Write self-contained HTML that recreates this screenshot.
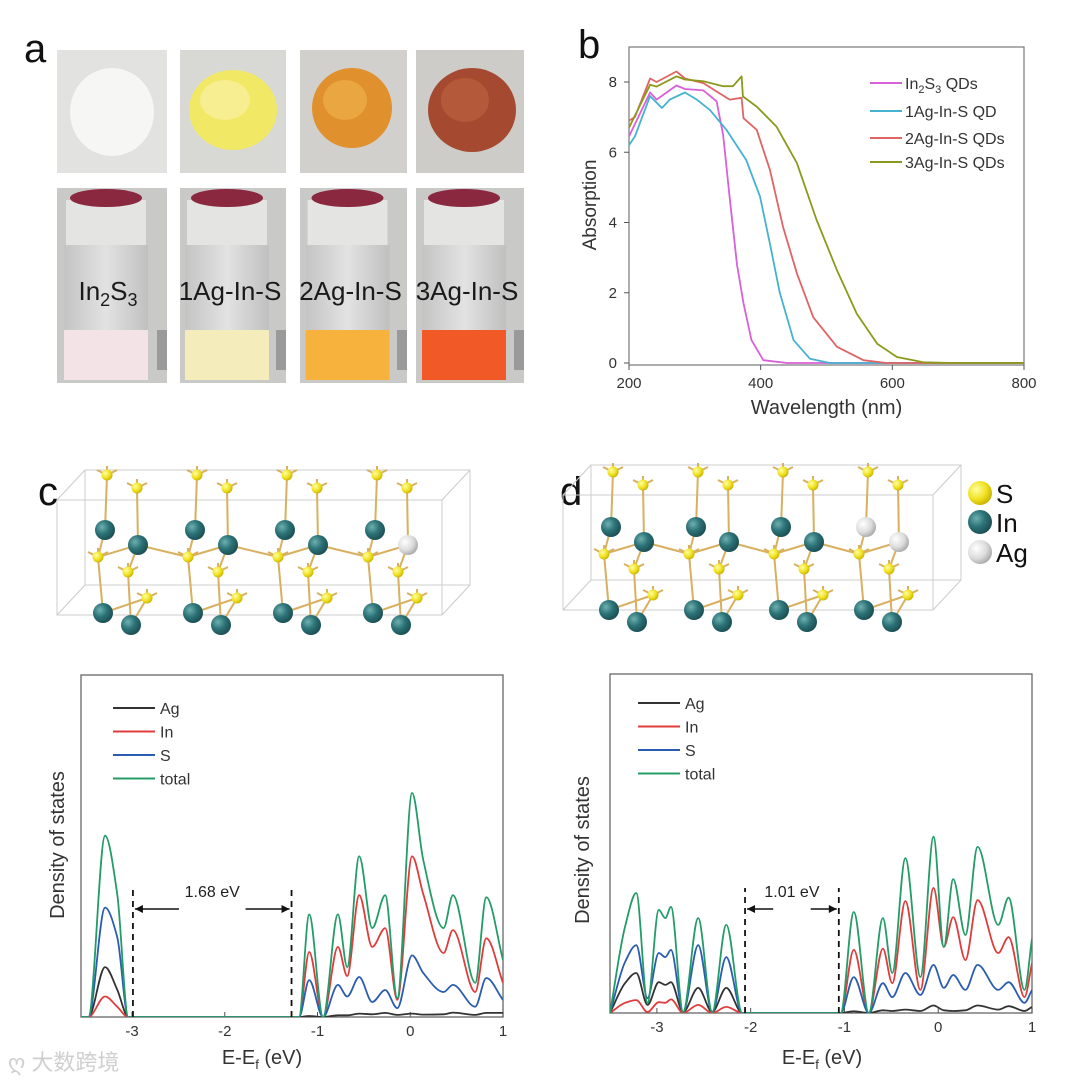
<!DOCTYPE html>
<html><head><meta charset="utf-8"><style>
html,body{margin:0;padding:0;background:#fff;}
svg{display:block;font-family:"Liberation Sans","Noto Sans CJK SC",sans-serif;}
</style></head><body>
<svg id="fig" width="1080" height="1082" viewBox="0 0 1080 1082" xmlns="http://www.w3.org/2000/svg">
<defs>
<radialGradient id="gIn" cx="35%" cy="35%" r="70%"><stop offset="0" stop-color="#6fb0b0"/><stop offset="0.5" stop-color="#2c7377"/><stop offset="1" stop-color="#1a4d52"/></radialGradient>
<radialGradient id="gS" cx="35%" cy="35%" r="70%"><stop offset="0" stop-color="#ffffa0"/><stop offset="0.6" stop-color="#f0e020"/><stop offset="1" stop-color="#c8b000"/></radialGradient>
<radialGradient id="gAg" cx="35%" cy="35%" r="70%"><stop offset="0" stop-color="#ffffff"/><stop offset="0.6" stop-color="#dcdcdc"/><stop offset="1" stop-color="#a8a8a8"/></radialGradient>
<linearGradient id="glass" x1="0" y1="0" x2="1" y2="0"><stop offset="0" stop-color="#c4c4c4"/><stop offset="0.5" stop-color="#e2e2e2"/><stop offset="1" stop-color="#c0c0c0"/></linearGradient>
<clipPath id="clipC"><rect x="81" y="675" width="422" height="342"/></clipPath>
<clipPath id="clipD"><rect x="610" y="674" width="422" height="339"/></clipPath>
</defs>

<text x="24" y="62" font-size="40" fill="#111">a</text>
<g>
  <rect x="57" y="50" width="110" height="123" fill="#e2e2e0"/>
  <ellipse cx="112" cy="112" rx="42" ry="44" fill="#f6f6f5"/>
  <rect x="180" y="50" width="106" height="123" fill="#d8d8d5"/>
  <ellipse cx="233" cy="110" rx="44" ry="40" fill="#f1e865"/>
  <ellipse cx="225" cy="100" rx="25" ry="20" fill="#f6ee90"/>
  <rect x="300" y="50" width="107" height="123" fill="#d2d0cc"/>
  <ellipse cx="352" cy="108" rx="40" ry="40" fill="#e0902c"/>
  <ellipse cx="345" cy="100" rx="22" ry="20" fill="#eaa640"/>
  <rect x="416" y="50" width="108" height="123" fill="#ceccc8"/>
  <ellipse cx="472" cy="110" rx="44" ry="42" fill="#a54a30"/>
  <ellipse cx="465" cy="100" rx="24" ry="22" fill="#b45a3a"/>
</g>
<g id="vials"></g>

<text x="578" y="58" font-size="40" fill="#111">b</text>
<g id="chartB"></g>

<text x="38" y="505" font-size="40" fill="#111">c</text>
<text x="560" y="505" font-size="40" fill="#111">d</text>
<g id="strC"></g>
<g id="strD"></g>
<g>
  <circle cx="980" cy="493" r="12" fill="url(#gS)"/><text x="996" y="503" font-size="26" fill="#111">S</text>
  <circle cx="980" cy="522" r="12" fill="url(#gIn)"/><text x="996" y="532" font-size="26" fill="#111">In</text>
  <circle cx="980" cy="552" r="12" fill="url(#gAg)"/><text x="996" y="562" font-size="26" fill="#111">Ag</text>
</g>

<g id="chartC"></g>
<g id="chartD"></g>

<text x="8" y="1070" font-size="22" fill="#cfcfcf">ღ 大数跨境</text>
</svg>

<script>
const wl_in2s3 = [200,232,242,272,285,313,333,343,353,364,374,386,404,440,800];
const ab_in2s3 = [6.45,7.7,7.5,7.9,7.8,7.76,7.45,6.5,4.7,2.8,1.7,0.65,0.08,0,0];
const wl_1ag = [200,209,232,250,262,285,303,323,348,378,399,414,429,450,475,505,800];
const ab_1ag = [6.2,6.45,7.6,7.26,7.5,7.7,7.5,7.2,6.64,5.78,4.74,3.4,2.0,0.65,0.12,0,0];
const wl_2ag = [200,209,232,242,272,285,313,333,353,371,374,394,414,434,455,480,516,556,591,800];
const ab_2ag = [6.9,7.0,8.1,8.0,8.3,8.1,7.97,7.73,7.5,7.55,6.97,6.64,5.5,3.88,2.55,1.3,0.46,0.08,0,0];
const wl_3ag = [200,232,242,272,285,313,343,358,371,373,394,424,455,485,516,546,577,607,647,693,800];
const ab_3ag = [6.7,7.92,7.87,8.16,8.07,8.02,7.88,7.88,8.16,7.59,7.3,6.73,5.69,4.07,2.64,1.4,0.55,0.17,0.02,0,0];
const bLabels = ["In2S3 QDs","1Ag-In-S QD","2Ag-In-S QDs","3Ag-In-S QDs"];
const bXTicks = [200,400,600,800];
const bYTicks = [0,2,4,6,8];

const eC = [-3.55,-3.47,-3.29,-3.16,-3.04,-2.95,-1.26,-1.2,-1.09,-0.94,-0.78,-0.68,-0.55,-0.41,-0.27,-0.14,0.02,0.14,0.36,0.46,0.70,0.82,1.0];
const agC = [0,0,14.6,8,0,0,0,0,0.3,0,0.5,0.5,1,0.8,1.2,0.6,1,0.7,0.8,1.3,0.6,1.2,1.2];
const inC = [0,0,6,3,0,0,0,0,19,0,20.5,12,35.6,20.5,26,5,47,36,18.7,25.4,7.3,23,10];
const sC = [0,0,32,23.4,0,0,0,0,10.8,0,9.4,6,11.7,4.4,7.9,2.6,18,12.9,7.3,9.4,3,11.4,5];
const totC = [0,0,53,36,0,0,0,0,30,0,30,14.6,47,26,35.6,5.5,65.5,46,26,35.6,10,35,16.7];
const gapC = [-2.99,-1.28];

const eD = [-3.5,-3.34,-3.22,-3.10,-2.98,-2.91,-2.85,-2.72,-2.56,-2.41,-2.26,-2.09,-1.04,-0.90,-0.74,-0.59,-0.49,-0.35,-0.19,-0.05,0.06,0.16,0.29,0.42,0.64,0.75,0.92,1.0];
const agD = [0,8.8,11.8,2.4,9.1,8.3,9.1,0.3,7.4,0.3,7.4,0,0,0.5,0,0.8,0.6,1.0,0.6,2.2,0.8,0.6,0.8,2.2,1.0,2.0,0.6,1.8];
const inD = [0,3,3.8,0.3,3.2,3,4,0,2.4,0,1.8,0,0,18.6,0,19,8.8,33,6.8,36.9,19.5,28.3,15.6,33.3,17.7,22.4,4.7,14.7];
const sD = [0,15,20,4.4,17.7,16.5,18.6,0.3,20,0.3,16.5,0,0,10.6,0,8.8,4.7,11.8,5.3,14.2,7.4,11.2,6.8,14.2,6.8,9.1,3,6.8];
const totD = [0,25.4,35.4,3,30.4,28,31.3,0.3,28,0.3,26,0,0,29.8,0,28,11.8,45.7,10.6,52,19.5,39.5,23,49,26,34,6.8,22];
const gapD = [-2.06,-1.06];
const dosXTicks = [-3,-2,-1,0,1];
const dosLegend = ["Ag","In","S","total"];

const NS = "http://www.w3.org/2000/svg";
function mk(tag, attrs, parent){
  const el = document.createElementNS(NS, tag);
  for (const k in attrs) el.setAttribute(k, attrs[k]);
  if (parent) parent.appendChild(el);
  return el;
}

(function(){
  const g = document.getElementById('vials');
  const cols = [[57,110],[180,106],[300,107],[416,108]];
  const liquids = ['#f3e3e6','#f5ecbc','#f6b23c','#f15a26'];
  const labels = ['In','1Ag-In-S','2Ag-In-S','3Ag-In-S'];
  const names = ['vial-in2s3','vial-1ag','vial-2ag','vial-3ag'];
  cols.forEach((c,i)=>{
    const vg = mk('g',{},g);
    
    
    mk('rect',{x:c[0],y:188,width:c[1],height:195,fill:'#c9c9c7'},vg);
    const cx = c[0]+c[1]/2-6;
    mk('rect',{x:cx-40,y:200,width:80,height:45,fill:'#e4e4e2'},vg);
    mk('ellipse',{cx:cx,cy:198,rx:36,ry:9,fill:'#8a2840'},vg);
    mk('rect',{x:cx-42,y:245,width:84,height:135,fill:'url(#glass)'},vg);
    mk('rect',{x:cx-42,y:330,width:84,height:50,fill:liquids[i]},vg);
    mk('rect',{x:c[0]+c[1]-10,y:330,width:10,height:40,fill:'#9a9a9a'},vg);
    const t = mk('text',{x:c[0]+c[1]/2-(i==0?4:3),y:300,'font-size':26,fill:'#1a1a1a','text-anchor':'middle'},vg);
    if(i==0){
      t.innerHTML = 'In<tspan font-size="18" dy="6">2</tspan><tspan dy="-6">S</tspan><tspan font-size="18" dy="6">3</tspan>';
    } else t.textContent = labels[i];
    
    
  });
})();

(function(){
  const g = document.getElementById('chartB');
  const X0=629,X1=1024,Y0=363,Yt=47;
  const xs = v => X0 + (v-200)*(X1-X0)/600;
  const ys = v => Y0 - v*(Y0-82)/8;
  const frame = mk('rect',{x:X0,y:Yt,width:X1-X0,height:365-Yt,fill:'none',stroke:'#777','stroke-width':1.2},g);
  
  
  bXTicks.forEach(v=>{
    mk('line',{x1:xs(v),x2:xs(v),y1:365,y2:370,stroke:'#555'},g);
    const t=mk('text',{x:xs(v),y:388,'font-size':15,fill:'#333','text-anchor':'middle'},g);
    t.textContent=v;
    
    
  });
  bYTicks.forEach(v=>{
    mk('line',{x1:X0-5,x2:X0,y1:ys(v),y2:ys(v),stroke:'#555'},g);
    const t=mk('text',{x:X0-12,y:ys(v)+5,'font-size':15,fill:'#333','text-anchor':'end'},g);
    t.textContent=v;
    
    
  });
  const xl=mk('text',{x:(X0+X1)/2,y:414,'font-size':20,fill:'#333','text-anchor':'middle'},g);
  xl.textContent='Wavelength (nm)';
  
  
  const yl=mk('text',{x:0,y:0,'font-size':19,fill:'#333','text-anchor':'middle',transform:'translate(596,205) rotate(-90)'},g);
  yl.textContent='Absorption';
  
  
  const series=[[wl_in2s3,ab_in2s3,'#d860d8'],[wl_1ag,ab_1ag,'#45b2d2'],[wl_2ag,ab_2ag,'#e06464'],[wl_3ag,ab_3ag,'#8c9a1c']];
  const snames=['line-in2s3','line-1ag','line-2ag','line-3ag'];
  series.forEach((s,i)=>{
    const pts=s[0].map((w,j)=>xs(w).toFixed(1)+','+ys(s[1][j]).toFixed(1)).join(' ');
    const pl=mk('polyline',{points:pts,fill:'none',stroke:s[2],'stroke-width':1.8,'stroke-linejoin':'round'},g);
    
    
    const ly=[83,111,138,162][i];
    const ll=mk('line',{x1:870,x2:902,y1:ly,y2:ly,stroke:s[2],'stroke-width':2},g);
    
    
    const t=mk('text',{x:905,y:ly+6,'font-size':16,fill:'#333'},g);
    if(i==0) t.innerHTML='In<tspan font-size="11" dy="4">2</tspan><tspan dy="-4">S</tspan><tspan font-size="11" dy="4">3</tspan><tspan dy="-4"> QDs</tspan>';
    else t.textContent=bLabels[i];
    
    
  });
})();

const unitS = [[0,0],[30,13],[-9,82],[21,97],[40,123]];
const unitIn = [[-2,55],[31,70],[-4,138],[24,150]];
function drawStructure(gid, origins, oy, agList, box){
  const g=document.getElementById(gid);
  const b=box;
  const bs={fill:'none',stroke:'#ccc','stroke-width':1};
  mk('rect',{x:b[0],y:b[1]+30,width:b[2],height:b[3]-30,...bs},g);
  mk('rect',{x:b[0]+28,y:b[1],width:b[2],height:b[3]-30,...bs},g);
  mk('line',{x1:b[0],y1:b[1]+30,x2:b[0]+28,y2:b[1],stroke:'#ccc'},g);
  mk('line',{x1:b[0]+b[2],y1:b[1]+30,x2:b[0]+b[2]+28,y2:b[1],stroke:'#ccc'},g);
  mk('line',{x1:b[0],y1:b[1]+b[3],x2:b[0]+28,y2:b[1]+b[3]-30,stroke:'#ccc'},g);
  mk('line',{x1:b[0]+b[2],y1:b[1]+b[3],x2:b[0]+b[2]+28,y2:b[1]+b[3]-30,stroke:'#ccc'},g);
  const bond={stroke:'#d8b060','stroke-width':2};
  origins.forEach((ox,u)=>{
    const S=unitS.map(p=>[ox+p[0],oy+p[1]]), I=unitIn.map(p=>[ox+p[0],oy+p[1]]);
    [[S[0],I[0]],[S[1],I[1]],[I[0],S[2]],[I[1],S[2]],[I[1],S[3]],[S[2],I[2]],[S[3],I[3]],[I[3],S[4]],[I[2],S[4]]].forEach(l=>mk('line',{x1:l[0][0],y1:l[0][1],x2:l[1][0],y2:l[1][1],...bond},g));
    if(u<origins.length-1){const nx=origins[u+1]+unitS[2][0],ny=oy+unitS[2][1];mk('line',{x1:I[1][0],y1:I[1][1],x2:nx,y2:ny,...bond},g);}
    S.forEach(p=>{[[-10,-5],[10,-5],[0,-9]].forEach(d=>mk('line',{x1:p[0],y1:p[1],x2:p[0]+d[0],y2:p[1]+d[1],...bond},g));});
    S.forEach(p=>mk('circle',{cx:p[0],cy:p[1],r:5.5,fill:'url(#gS)'},g));
    I.forEach((p,k)=>{
      const isAg = agList.some(a=>a[0]==u&&a[1]==k);
      mk('circle',{cx:p[0],cy:p[1],r:10,fill:isAg?'url(#gAg)':'url(#gIn)'},g);
    });
  });
}
drawStructure('strC',[107,197,287,377],475,[[3,1]],[57,470,385,145]);
drawStructure('strD',[613,698,783,868],472,[[3,0],[3,1]],[563,465,370,145]);

// monotone cubic (Fritsch-Carlson) path
function monoPath(pts){
  const n=pts.length, dx=[], m=[], t=[];
  for(let i=0;i<n-1;i++){dx[i]=pts[i+1][0]-pts[i][0]; m[i]=(pts[i+1][1]-pts[i][1])/dx[i];}
  t[0]=m[0]; t[n-1]=m[n-2];
  for(let i=1;i<n-1;i++){
    if(m[i-1]*m[i]<=0) t[i]=0;
    else { const w1=2*dx[i]+dx[i-1], w2=dx[i]+2*dx[i-1]; t[i]=(w1+w2)/(w1/m[i-1]+w2/m[i]); }
  }
  let d='M'+pts[0][0].toFixed(1)+','+pts[0][1].toFixed(1);
  for(let i=0;i<n-1;i++){
    const h=dx[i]/3;
    d+=' C'+(pts[i][0]+h).toFixed(1)+','+(pts[i][1]+t[i]*h).toFixed(1)+' '+(pts[i+1][0]-h).toFixed(1)+','+(pts[i+1][1]-t[i+1]*h).toFixed(1)+' '+pts[i+1][0].toFixed(1)+','+pts[i+1][1].toFixed(1);
  }
  return d;
}
function drawDOS(gid, box, e0, e1, clip, E, series, gap, gapLabel, legendPos, ylab, xlab){
  const g=document.getElementById(gid);
  const [L,T,R,B]=box;
  const xs=v=>L+(v-e0)*(R-L)/(e1-e0);
  const ys=v=>B-v*(B-T)/100;
  const fr=mk('rect',{x:L,y:T,width:R-L,height:B-T,fill:'none',stroke:'#666','stroke-width':1.3},g);
  
  
  dosXTicks.forEach(v=>{
    mk('line',{x1:xs(v),x2:xs(v),y1:B,y2:B-5,stroke:'#555'},g);
    const t=mk('text',{x:xs(v),y:B+19,'font-size':15,fill:'#333','text-anchor':'middle'},g);
    t.textContent=v;
    
    
  });
  const cols=['#333333','#e03c3c','#2a5db0','#239c68'];
  const names=['line-ag','line-in','line-s','line-total'];
  const cg=mk('g',{'clip-path':'url(#'+clip+')'},g);
  series.forEach((s,i)=>{
    const pts=E.map((e,j)=>[xs(e),ys(s[j])]);
    const p=mk('path',{d:monoPath(pts),fill:'none',stroke:cols[i],'stroke-width':1.8},cg);
    
    
  });
  const gx1=xs(gap[0]),gx2=xs(gap[1]);
  [gx1,gx2].forEach(x=>{
    const l=mk('line',{x1:x,x2:x,y1:B,y2:888,stroke:'#111','stroke-width':1.8,'stroke-dasharray':'6,5'},g);
    
    
  });
  const ay=909, w=Math.min(46,(gx2-gx1)*0.3);
  mk('line',{x1:gx1+2,x2:gx1+w,y1:ay,y2:ay,stroke:'#111','stroke-width':1.4},g);
  mk('path',{d:`M${gx1+2},${ay} l8,-4 l0,8 z`,fill:'#111'},g);
  mk('line',{x1:gx2-w,x2:gx2-2,y1:ay,y2:ay,stroke:'#111','stroke-width':1.4},g);
  mk('path',{d:`M${gx2-2},${ay} l-8,-4 l0,8 z`,fill:'#111'},g);
  const gt=mk('text',{x:(gx1+gx2)/2,y:897,'font-size':16,fill:'#222','text-anchor':'middle'},g);
  gt.textContent=gapLabel;
  
  
  dosLegend.forEach((n,i)=>{
    const y=legendPos[1]+i*23.5;
    const ll=mk('line',{x1:legendPos[0],x2:legendPos[0]+42,y1:y,y2:y,stroke:cols[i],'stroke-width':2},g);
    
    
    const t=mk('text',{x:legendPos[0]+47,y:y+6,'font-size':16,fill:'#333'},g);
    t.textContent=n;
    
    
  });
  const yl=mk('text',{x:0,y:0,'font-size':20,fill:'#333','text-anchor':'middle',transform:`translate(${ylab[0]},${ylab[1]}) rotate(-90)`},g);
  yl.textContent='Density of states';
  
  
  const xl=mk('text',{x:xlab[0],y:xlab[1],'font-size':20,fill:'#333','text-anchor':'middle'},g);
  xl.innerHTML='E-E<tspan font-size="13" dy="5">f</tspan><tspan dy="-5"> (eV)</tspan>';
  
  
}
drawDOS('chartC',[81,675,503,1017],-3.55,1.0,'clipC',eC,[agC,inC,sC,totC],gapC,'1.68 eV',[113,708],[64,845],[262,1064]);
drawDOS('chartD',[610,674,1032,1013],-3.5,1.0,'clipD',eD,[agD,inD,sD,totD],gapD,'1.01 eV',[638,703],[589,850],[822,1064]);
</script>
</body></html>
